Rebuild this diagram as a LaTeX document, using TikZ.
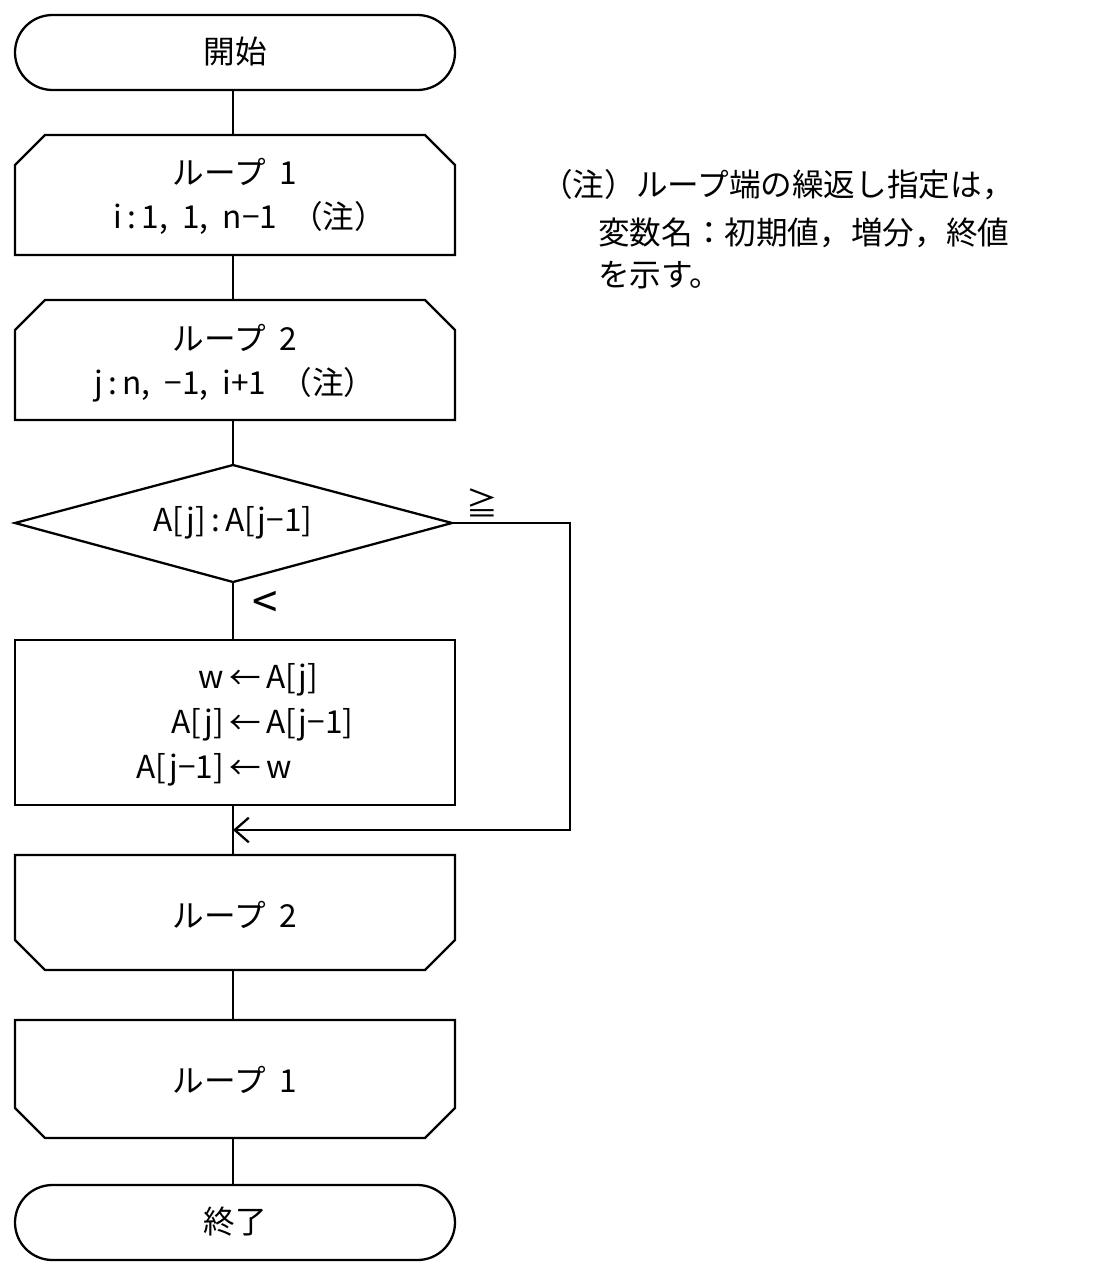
\documentclass[tikz,border=0pt]{standalone}
\usepackage{fontspec}
\setmainfont{Noto Sans CJK JP}
\usetikzlibrary{arrows.meta}

\begin{document}
\begin{tikzpicture}[x=0.02cm,y=-0.02cm,line width=1.3pt,
    txt/.style={font=\fontsize{18}{22}\selectfont, inner sep=0pt},
    flow/.style={line width=1.3pt}]
        \useasboundingbox (0,0) rectangle (1117,1271);
        
        % Terminals
        \draw[rounded corners=37.5*0.02cm] (15,15) rectangle (455,90);
        \node[txt] (start) at (235,52) {開始};
        \draw[rounded corners=37.5*0.02cm] (15,1185) rectangle (455,1260);
        \node[txt] (stop) at (235,1222) {終了};
        
        % Loop begin 1
        \draw (15,255) -- (15,165) -- (45,135) -- (425,135) -- (455,165) -- (455,255) -- cycle;
        \node[txt] at (235,172) {ループ\ \ 1};
        \node[txt] at (250,218) {i\,:\,1,\ \ 1,\ \ n−1\ \ （注）};
        
        % Loop begin 2
        \draw (15,420) -- (15,330) -- (45,300) -- (425,300) -- (455,330) -- (455,420) -- cycle;
        \node[txt] at (235,338) {ループ\ \ 2};
        \node[txt] at (235,385) {j\,:\,n,\ \ −1,\ \ i+1\ \ （注）};
        
        % Decision
        \draw (15,523) -- (233,465) -- (452,523) -- (233,582) -- cycle;
        \node[txt] (cmp) at (233,523) {A[j]\,:\,A[j−1]};
        \node[txt] at (482,503) {≧};
        \node[txt] at (265,605) {\fontsize{26}{26}\selectfont <};
        
        % Swap
        \draw (15,640) rectangle (455,805);
        \foreach \l/\r/\y in {w/A[j]/680, A[j]/A[j−1]/725, A[j−1]/w/770}{
            \node[txt, anchor=east] at (225,\y) {\l};
            \node[txt] at (245,\y) {←};
            \node[txt, anchor=west] at (265,\y) {\r};
        }
        
        % Loop end 2
        \draw (15,855) -- (455,855) -- (455,940) -- (425,970) -- (45,970) -- (15,940) -- cycle;
        \node[txt] at (235,915) {ループ\ \ 2};
        
        % Loop end 1
        \draw (15,1020) -- (455,1020) -- (455,1108) -- (425,1138) -- (45,1138) -- (15,1108) -- cycle;
        \node[txt] at (235,1080) {ループ\ \ 1};
        
        % Connection points
        \coordinate (t1) at (233,90);   \coordinate (l1) at (233,135);
        \coordinate (l1b) at (233,255); \coordinate (l2) at (233,300);
        \coordinate (l2b) at (233,420); \coordinate (dtop) at (233,465);
        \coordinate (dbot) at (233,582); \coordinate (sw) at (233,640);
        \coordinate (swb) at (233,805); \coordinate (e2) at (233,855);
        \coordinate (e2b) at (233,970); \coordinate (e1) at (233,1020);
        \coordinate (e1b) at (233,1138); \coordinate (t2) at (233,1185);
        \coordinate (dright) at (452,523); \coordinate (join) at (233,830);
        
        \draw (t1) -- (l1);
        \draw (l1b) -- (l2);
        \draw (l2b) -- (dtop);
        \draw (dbot) -- (sw);
        \draw (swb) -- (e2);
        \draw (e2b) -- (e1);
        \draw (e1b) -- (t2);
        \draw[->, >={Straight Barb[length=8pt,width=14pt]}] (dright) -- (570,523) -- (570,830) -- (join);
        
        % Note
        \node[txt, anchor=west] at (540,185) {（注）ループ端の繰返し指定は，};
        \node[txt, anchor=west] at (597,233) {変数名：初期値，増分，終値};
        \node[txt, anchor=west] at (597,275) {を示す。};
\end{tikzpicture}
\end{document}
